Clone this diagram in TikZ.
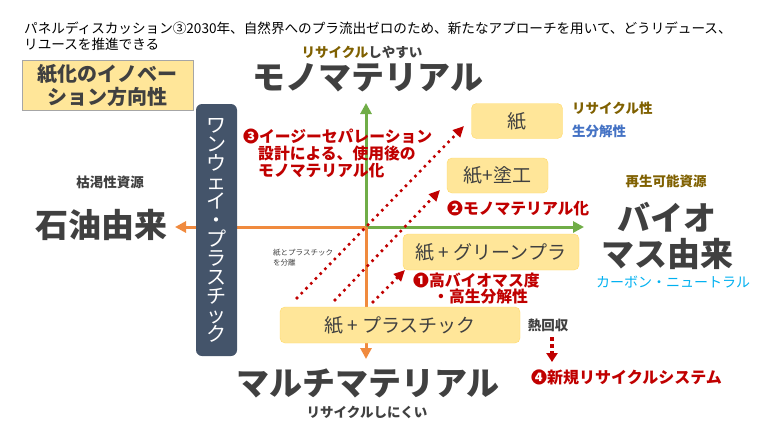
\documentclass[tikz,border=0pt]{standalone}
\usepackage{fontspec}
\setmainfont{Noto Sans CJK JP}
\usetikzlibrary{arrows.meta}

\definecolor{ink}{HTML}{404040}
\definecolor{paperfill}{HTML}{FFE699}
\definecolor{paperedge}{HTML}{FFD966}
\definecolor{navy}{HTML}{44546A}
\definecolor{redtext}{HTML}{C00000}
\definecolor{browntext}{HTML}{7F6000}
\definecolor{bluetext}{HTML}{4472C4}
\definecolor{skytext}{HTML}{00B0F0}
\definecolor{greenaxis}{HTML}{70AD47}
\definecolor{orangeaxis}{HTML}{F08A3E}

\newcommand{\fs}[1]{\fontsize{#1}{\fpeval{1.15*#1}}\selectfont}

\begin{document}
\begin{tikzpicture}[x=1pt, y=-1pt,
    paper/.style={fill=paperfill, draw=paperedge, rounded corners=5pt, inner sep=0pt,
      font=\fs{19}, text=ink},
    big/.style={font=\bfseries\fs{33}, text=ink, inner sep=0pt},
    small/.style={font=\bfseries\fs{13.5}, inner sep=0pt},
    note/.style={font=\bfseries\fs{15.8}, text=redtext, inner sep=0pt, align=left},
    axisline/.style={line width=3pt, -{Triangle[length=11pt,width=11pt]}},
    route/.style={draw=redtext, line width=3.6pt, line cap=round, dash pattern=on 0pt off 6.8pt,
      -{Triangle[length=11pt,width=10pt]}},
    heatflow/.style={draw=redtext, line width=4pt, dash pattern=on 4pt off 3pt,
      -{Triangle[length=9pt,width=11pt]}}]
    \useasboundingbox (0,0) rectangle (780,440);

    % title
    \node[anchor=north west, align=left, inner sep=0pt, font=\fs{13.6}, text=black] (title) at (24,22)
        {パネルディスカッション③2030年、自然界へのプラ流出ゼロのため、新たなアプローチを用いて、どうリデュース、\\リユースを推進できる};

    \node[fill=paperfill, draw=gray!70, minimum width=171pt, minimum height=50pt, align=center,
        font=\bfseries\fs{20}, text=ink, inner sep=0pt] (theme) at (107.5,85)
        {紙化のイノベー\\ション方向性};

    % axes
    \coordinate (o) at (366,227);
    \coordinate (up) at (366,103);
    \coordinate (right) at (584,227);
    \coordinate (left) at (175,227);
    \coordinate (down) at (366,359);
    \draw[axisline, greenaxis] (o) -- (up);
    \draw[axisline, greenaxis] (o) -- (right);
    \draw[axisline, orangeaxis] (o) -- (left);
    \draw[axisline, orangeaxis] (o) -- (down);

    \node[fill=navy, rounded corners=6pt, minimum width=41pt, minimum height=252pt, inner sep=0pt,
        align=center, text=white, font=\fs{20}] (oneway) at (216.5,230)
        {ワ\\[-4pt]ン\\[-4pt]ウ\\[-4pt]ェ\\[-4pt]イ\\[-4pt]・\\[-4pt]プ\\[-4pt]ラ\\[-4pt]ス\\[-4pt]チ\\[-4pt]ッ\\[-4pt]ク};

    % axis labels
    \node[small] (easy) at (362,52) {\textcolor{browntext}{リサイクル}\textcolor{ink}{しやすい}};
    \node[big] (mono) at (368,78) {モノマテリアル};
    \node[big] (multi) at (368,383) {マルチマテリアル};
    \node[small, text=ink] (hard) at (367,412) {リサイクルしにくい};
    \node[small, text=ink] (finite) at (110,182) {枯渇性資源};
    \node[big] (oil) at (101,225) {石油由来};
    \node[small, text=browntext] (renew) at (666,181) {再生可能資源};
    \node[big, align=center] (bio) at (667,236) {バイオ\\[-2pt]マス由来};
    \node[small, font=\fs{14}, text=skytext] (neutral) at (673,282) {カーボン・ニュートラル};

    % paper boxes
    \node[paper, minimum width=91pt, minimum height=35pt] (p1) at (517,121) {紙};
    \node[paper, minimum width=101pt, minimum height=35pt] (p2) at (497.5,175.5) {紙+塗工};
    \node[paper, minimum width=176pt, minimum height=36pt] (p3) at (491,252) {紙 + グリーンプラ};
    \node[paper, minimum width=240pt, minimum height=36pt] (p4) at (400,325) {紙 + プラスチック};

    \node[small, anchor=west, text=browntext] (recyc) at (572,108) {リサイクル性};
    \node[small, anchor=west, text=bluetext] (biodeg) at (572,131) {生分解性};

    % routes
    \coordinate (r1s) at (297,298);
    \coordinate (r1e) at (464,126);
    \coordinate (r2s) at (335,300);
    \coordinate (r2e) at (440,190);
    \coordinate (r3s) at (373,302);
    \coordinate (r3e) at (405,270);
    \draw[route] (r1s) -- (r1e);
    \draw[route] (r2s) -- (r2e);
    \draw[route] (r3s) -- (r3e);

    \node[note, anchor=north west] (n3) at (243,129)
        {❸イージーセパレーション\\[-1.5pt]\hspace*{15pt}設計による、使用後の\\[-1.5pt]\hspace*{15pt}モノマテリアル化};
    \node[note, anchor=west] (n2) at (447,208) {❷モノマテリアル化};
    \node[note, anchor=west] (n1) at (413,281) {❶高バイオマス度};
    \node[note, anchor=west] (n1b) at (433,297) {・高生分解性};
    \node[anchor=north west, align=left, inner sep=0pt, font=\fs{7.5}, text=ink] (split) at (273,249)
        {紙とプラスチック\\[1pt]を分離};

    % heat recovery
    \node[small, text=ink] (heat) at (548,325) {熱回収};
    \coordinate (h1) at (552,337);
    \coordinate (h2) at (552,362);
    \draw[heatflow] (h1) -- (h2);
    \node[note, font=\bfseries\fs{16}, anchor=west] (n4) at (531,377) {❹新規リサイクルシステム};
\end{tikzpicture}
\end{document}
